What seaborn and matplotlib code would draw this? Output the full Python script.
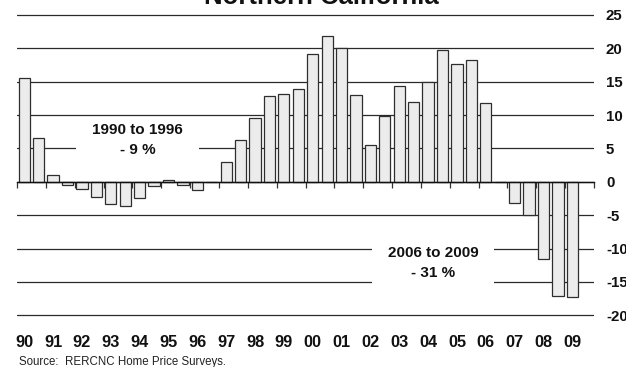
"""
Northern California home price change, half-yearly, 1990-2009.
"""

import numpy as np
import pandas as pd
import matplotlib
matplotlib.use("Agg")
import matplotlib.pyplot as plt
from matplotlib.patches import Rectangle
import seaborn as sns

# year tick labels (one per year, two half-year bars each)
years = ["90", "91", "92", "93", "94", "95", "96", "97", "98", "99",
         "00", "01", "02", "03", "04", "05", "06", "07", "08", "09"]

# half-year % change (2009 H2 not yet reported)
pct_change = [
    15.6, 6.6,    # 90
    1.0, -0.4,    # 91
    -1.0, -2.3,   # 92
    -3.3, -3.6,   # 93
    -2.4, -0.6,   # 94
    0.2, -0.5,    # 95
    -1.2, 0.0,    # 96
    3.0, 6.3,     # 97
    9.6, 12.9,    # 98
    13.1, 13.9,   # 99
    19.2, 21.9,   # 00
    20.1, 13.0,   # 01
    5.5, 9.8,     # 02
    14.4, 11.9,   # 03
    15.0, 19.7,   # 04
    17.6, 18.3,   # 05
    11.8, 0.0,    # 06
    -3.2, -5.0,   # 07
    -11.6, -17.1, # 08
    -17.3,        # 09
]

y_ticks = [-20, -15, -10, -5, 0, 5, 10, 15, 20, 25]

periods = [f"{y}{h}" for y in years for h in ("a", "b")]
df = pd.DataFrame({"period": periods[:len(pct_change)], "change": pct_change})

sns.set_theme(style="white")
plt.rcParams["font.family"] = ["Liberation Sans", "DejaVu Sans"]

W, H = 626, 367
fig = plt.figure(figsize=(W / 100, H / 100), dpi=100)
ylo, yhi = -20.2, 25.2
ppu = (315.3 - 15) / 45.0
top_px = 15 - (yhi - 25) * ppu
bot_px = 315.3 + (-20 - ylo) * ppu
ax = fig.add_axes([17 / W, 1 - bot_px / H, 577 / W, (bot_px - top_px) / H])

sns.barplot(data=df, x="period", y="change", order=periods, ax=ax,
            color="#ececec", saturation=1, edgecolor="#2e2e2e",
            linewidth=0.9, width=0.78, errorbar=None)

ax.set_xlim(-0.5, len(periods) - 0.5)
ax.set_ylim(ylo, yhi)
ax.set_xlabel("")
ax.set_ylabel("")

# horizontal gridlines behind the bars
ax.set_axisbelow(True)
ax.grid(axis="y", color="#2a2a2a", linewidth=0.9)
ax.grid(axis="x", visible=False)

for side in ("left", "top", "right"):
    ax.spines[side].set_visible(False)
ax.spines["bottom"].set_position(("data", 0))
ax.spines["bottom"].set_color("#111111")
ax.spines["bottom"].set_linewidth(1.0)

# year boundary ticks on the zero line
ax.set_xticks(np.arange(-0.5, len(periods), 2))
ax.tick_params(axis="x", direction="out", length=4, width=0.9,
               color="#333333", labelbottom=False, bottom=True)

# year labels at the bottom of the frame
sec = ax.secondary_xaxis("bottom")
sec.set_xticks(np.arange(0, len(periods), 2), labels=years)
sec.tick_params(length=0, pad=13.5, labelsize=11.8, labelcolor="#111111")
for lab in sec.get_xticklabels():
    lab.set_fontweight("bold")
for sp in sec.spines.values():
    sp.set_visible(False)

# value labels on the right
ax.yaxis.tick_right()
ax.set_yticks(y_ticks)
ax.set_yticklabels([str(v) for v in y_ticks], fontweight="bold")
ax.tick_params(axis="y", length=0, pad=8.6, labelsize=10.8, labelcolor="#111111")

# period summaries, each on a white patch that hides the gridlines
ax.add_patch(Rectangle((3.6, 3.0), 8.5, 6.3, facecolor="white",
                       edgecolor="none", zorder=0.8))
ax.text(7.85, 6.3, "1990 to 1996\n- 9 %", ha="center", va="center",
        fontsize=11, fontweight="bold", linespacing=1.5, color="#111111")
ax.add_patch(Rectangle((24.1, -16.8), 8.5, 8.5, facecolor="white",
                       edgecolor="none", zorder=0.8))
ax.text(28.34, -12.2, "2006 to 2009\n- 31 %", ha="center", va="center",
        fontsize=11, fontweight="bold", linespacing=1.5, color="#111111")

# title sits at the very top edge, partly cropped as in the source image
fig.text(321 / W, 1 - 4 / H, "Northern California", ha="center",
         va="baseline", fontsize=18.5, fontweight="bold", color="#111111")
fig.text(19 / W, 1 - 365 / H, "Source:  RERCNC Home Price Surveys.",
         ha="left", va="baseline", fontsize=8.3, color="#222222")

fig.savefig("out.png", dpi=100)
plt.close(fig)
